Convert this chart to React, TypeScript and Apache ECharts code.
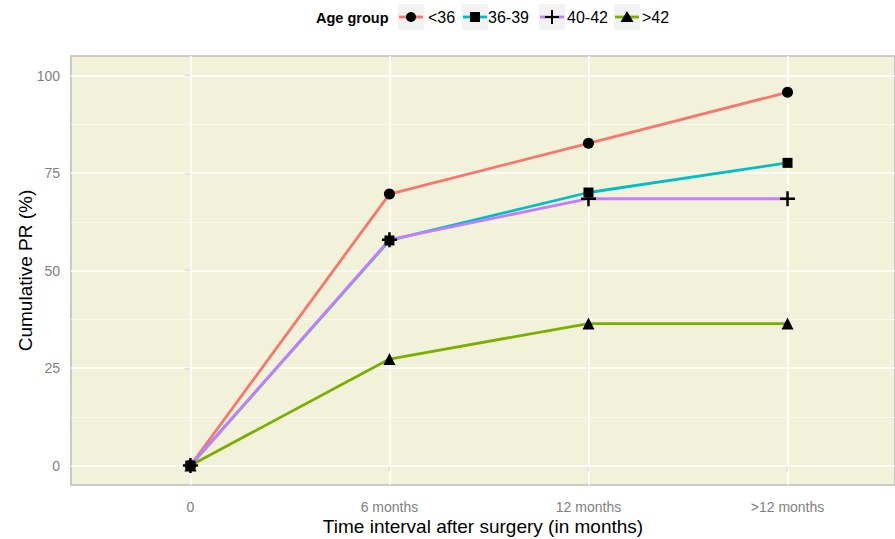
import React, { useEffect, useRef } from "react";
import * as echarts from "echarts";

const categories = ["0", "6 months", "12 months", ">12 months"];
const ageGroups = ["<36", "36-39", "40-42", ">42"];
const prUnder36 = [0, 69.6, 82.6, 95.7];
const pr36to39 = [0, 57.7, 70.0, 77.6];
const pr40to42 = [0, 57.9, 68.4, 68.4];
const prOver42 = [0, 27.3, 36.4, 36.4];
const yTicks = [0, 25, 50, 75, 100];
const yMinorTicks = [12.5, 37.5, 62.5, 87.5];

const seriesValues = [prUnder36, pr36to39, pr40to42, prOver42];
const lineColors = ["#F8766D", "#00BFC4", "#C77CFF", "#7CAE00"];
const PLUS = "path://M5,0H7V5H12V7H7V12H5V7H0V5H5Z";
const symbols = ["circle", "rect", PLUS, "triangle"];
const symbolSizes = [11, 10, 15, 12];
const FONT = "'Liberation Sans', Arial, sans-serif";

export default function App() {
  const ref = useRef<HTMLDivElement>(null);
  useEffect(() => {
    if (!ref.current) return;
    const chart = echarts.init(ref.current, undefined, { renderer: "svg" });

    const lineSeries = seriesValues.map((vals, k) => ({
      type: "line",
      name: ageGroups[k],
      data: categories.map((_, i) => [i, vals[i]]),
      showSymbol: false,
      symbol: "none",
      lineStyle: { color: lineColors[k], width: 2.8 },
      itemStyle: { color: lineColors[k] },
      z: 3,
      silent: true,
    }));
    const pointSeries = seriesValues.map((vals, k) => ({
      type: "scatter",
      name: ageGroups[k] + " pts",
      data: categories.map((_, i) => [i, vals[i]]),
      symbol: symbols[k],
      symbolSize: symbolSizes[k],
      itemStyle: { color: "#000", opacity: 1 },
      z: 4,
      silent: true,
    }));
    const gridSeries = {
      type: "line",
      name: "grid",
      data: [[0, 0]],
      showSymbol: false,
      lineStyle: { opacity: 0 },
      z: 1,
      silent: true,
      markLine: {
        silent: true,
        z: 1,
        symbol: ["none", "none"],
        label: { show: false },
        animation: false,
        data: [
          ...yMinorTicks.map((v) => ({ yAxis: v, lineStyle: { color: "#FAFAF0", width: 0.8, type: "solid" } })),
          ...yTicks.map((v) => ({ yAxis: v, lineStyle: { color: "#FFFFFF", width: 1.6, type: "solid" } })),
          ...categories.map((_, i) => ({ xAxis: i, lineStyle: { color: "#FFFFFF", width: 1.6, type: "solid" } })),
        ],
      },
    };

    // legend drawn with graphic elements
    const keyCenters = [411, 475, 552, 627];
    const labelStarts = [428, 488, 567, 642];
    const keyY = 17;
    const legendEls: any[] = [
      {
        type: "text",
        left: 316,
        top: 10,
        style: { text: "Age group", font: `bold 14.5px ${FONT}`, fill: "#000" },
      },
    ];
    ageGroups.forEach((g, k) => {
      const cx = keyCenters[k];
      legendEls.push({
        type: "rect",
        shape: { x: cx - 13, y: 4, width: 26, height: 26 },
        style: { fill: "#F2F2F2" },
      });
      legendEls.push({
        type: "line",
        shape: { x1: cx - 12, y1: keyY, x2: cx + 12, y2: keyY },
        style: { stroke: lineColors[k], lineWidth: 2.8 },
      });
      if (k === 0) {
        legendEls.push({ type: "circle", shape: { cx, cy: keyY, r: 5 }, style: { fill: "#000" } });
      } else if (k === 1) {
        legendEls.push({ type: "rect", shape: { x: cx - 5, y: keyY - 5, width: 10, height: 10 }, style: { fill: "#000" } });
      } else if (k === 2) {
        legendEls.push({ type: "line", shape: { x1: cx - 7, y1: keyY, x2: cx + 7, y2: keyY }, style: { stroke: "#000", lineWidth: 2 } });
        legendEls.push({ type: "line", shape: { x1: cx, y1: keyY - 7, x2: cx, y2: keyY + 7 }, style: { stroke: "#000", lineWidth: 2 } });
      } else {
        legendEls.push({
          type: "polygon",
          shape: { points: [[cx, keyY - 6], [cx + 6.5, keyY + 5], [cx - 6.5, keyY + 5]] },
          style: { fill: "#000" },
        });
      }
      legendEls.push({
        type: "text",
        left: labelStarts[k],
        top: 9,
        style: { text: g, font: `16px ${FONT}`, fill: "#000" },
      });
    });

    chart.setOption({
      animation: false,
      backgroundColor: "#FFFFFF",
      textStyle: { fontFamily: FONT },
      grid: {
        left: 71,
        right: 0,
        top: 56,
        bottom: 54,
        outerBoundsMode: "none",
        containLabel: false,
        show: true,
        backgroundColor: "#F2F2DB",
        borderColor: "#BDBDBD",
        borderWidth: 1.5,
      },
      xAxis: {
        type: "value",
        min: -0.6,
        max: 3.54,
        axisLine: { show: false },
        splitLine: { show: false },
        axisTick: { show: true, customValues: [0, 1, 2, 3], length: 6, lineStyle: { color: "#7F7F7F", width: 1.2 } },
        axisLabel: {
          customValues: [0, 1, 2, 3],
          formatter: (v: number) => categories[Math.round(v)],
          color: "#7F7F7F",
          fontSize: 14,
          margin: 15,
        },
        name: "Time interval after surgery (in months)",
        nameLocation: "middle",
        nameGap: 32,
        nameMoveOverlap: false,
        nameTextStyle: { color: "#000", fontSize: 19 },
      },
      yAxis: {
        type: "value",
        min: -5,
        max: 105,
        axisLine: { show: false },
        splitLine: { show: false },
        axisTick: { show: true, customValues: yTicks, length: 6, lineStyle: { color: "#7F7F7F", width: 1.2 } },
        axisLabel: { customValues: yTicks, color: "#7F7F7F", fontSize: 14, margin: 11 },
        name: "Cumulative PR (%)",
        nameLocation: "middle",
        nameGap: 36,
        nameMoveOverlap: false,
        nameTextStyle: { color: "#000", fontSize: 19 },
      },
      graphic: legendEls,
      series: [gridSeries, ...lineSeries, ...pointSeries],
    });
    return () => chart.dispose();
  }, []);
  return <div ref={ref} style={{ position: "absolute", left: 0, top: 0, width: 895, height: 539 }} />;
}
